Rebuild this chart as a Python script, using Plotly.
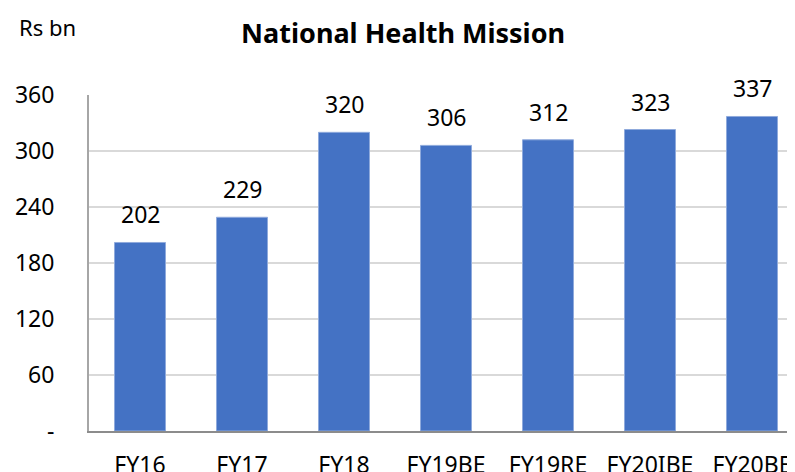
import plotly.graph_objects as go

categories = ["FY16", "FY17", "FY18", "FY19BE", "FY19RE", "FY20IBE", "FY20BE"]
values = [202, 229, 320, 306, 312, 323, 337]
tick_vals = [0, 60, 120, 180, 240, 300, 360]
tick_text = ["-", "60", "120", "180", "240", "300", "360"]

FONT = "Noto Sans"

fig = go.Figure()
fig.add_trace(go.Bar(
    x=categories, y=values,
    marker=dict(color="#4472C4", line=dict(color="#8FAADC", width=1)),
    width=0.5,
    cliponaxis=False,
))

value_labels = [
    dict(x=c, y=v, text=str(v), xref="x", yref="y", showarrow=False,
         yanchor="bottom", xanchor="center", yshift=10,
         font=dict(family=FONT, size=23, color="#000000"))
    for c, v in zip(categories, values)
]

fig.update_layout(
    width=795, height=472,
    margin=dict(l=81, r=0, t=87, b=49, autoexpand=False),
    plot_bgcolor="white", paper_bgcolor="white",
    showlegend=False,
    title=dict(text="<b>National Health Mission</b>", x=0.497, xanchor="center",
               y=0.945, yanchor="middle", automargin=False,
               font=dict(family=FONT, size=27, color="#000000")),
    annotations=value_labels + [
        dict(text="Rs bn", xref="paper", yref="paper", x=-0.101, y=1.202,
             xanchor="left", yanchor="middle", showarrow=False,
             font=dict(family=FONT, size=22, color="#000000"))],
)
fig.update_xaxes(
    range=[-0.5, 6.5], automargin=False,
    showline=True, linecolor="#8C8C8C", linewidth=2,
    ticks="outside", ticklen=12, tickcolor="rgba(0,0,0,0)",
    tickfont=dict(family=FONT, size=23, color="#000000"),
    showgrid=False,
)
fig.update_yaxes(
    range=[0, 360], automargin=False,
    tickvals=tick_vals, ticktext=tick_text,
    showline=True, linecolor="#A6A6A6", linewidth=2,
    showgrid=True, gridcolor="#D9D9D9", gridwidth=1.5,
    ticks="outside", ticklen=28, tickcolor="rgba(0,0,0,0)",
    tickfont=dict(family=FONT, size=23, color="#000000"),
    zeroline=False,
)

fig.write_html("out.html")
